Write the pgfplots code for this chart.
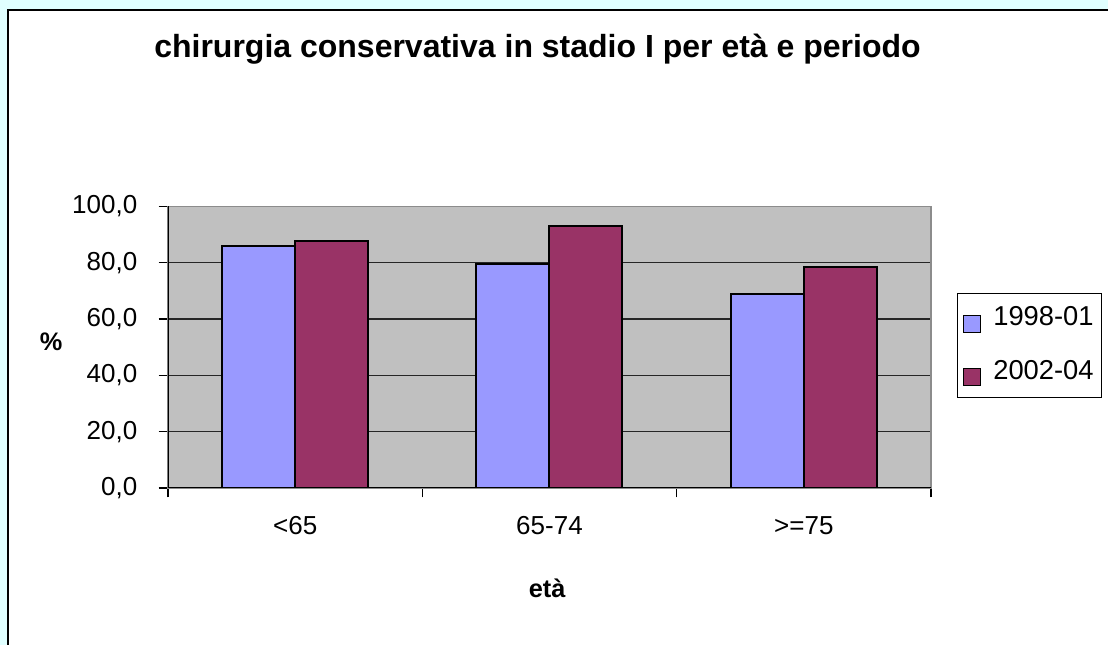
\documentclass[border=0pt]{standalone}
\usepackage{pgfplots}
\pgfplotsset{compat=1.18}
\usepackage{fontspec}
\setmainfont{Liberation Sans}

\definecolor{bgcyan}{HTML}{E0FFFF}
\definecolor{plotgray}{HTML}{C0C0C0}
\definecolor{serA}{HTML}{9999FF}
\definecolor{serB}{HTML}{993366}

\newcommand{\lblfont}{\fontsize{19.5}{23}\selectfont}
\newcommand{\legfont}{\fontsize{20.5}{24}\selectfont}

\begin{document}
\begin{tikzpicture}
\useasboundingbox (0pt,0pt) rectangle (831pt,483.75pt);
\clip (0pt,0pt) rectangle (831pt,483.75pt);
\begin{scope}[x=0.75pt,y=0.75pt]
% page background and chart panel
\fill[bgcyan] (0,0) rectangle (1108,645);
\filldraw[fill=white,draw=black,line width=0.9pt] (8,-20) rectangle (1130,635);
% title
\node[anchor=base,font=\bfseries\fontsize{24}{28}\selectfont] at (537.5,587.3)
  {chirurgia conservativa in stadio I per età e periodo};
\end{scope}

\begin{axis}[
  at={(126pt,117.75pt)}, anchor=south west,
  scale only axis, width=572.25pt, height=211.2pt,
  xmin=-0.5, xmax=2.5, ymin=0, ymax=100,
  axis background/.style={fill=plotgray},
  axis line style={draw=black!45, line width=1pt},
  ybar=0pt, bar width=54.75pt,
  ymajorgrids, grid style={draw=black!85, line width=0.8pt},
  ytick={0,20,40,60,80,100},
  xtick={-0.5,0.5,1.5,2.5},
  xticklabels={<65,65-74,>=75},
  x tick label as interval,
  tick pos=left,
  tick align=outside, major tick length=7pt,
  tick style={draw=black, line width=0.8pt},
  ticklabel style={font=\lblfont},
  yticklabel style={xshift=-12.5pt, /pgf/number format/.cd, fixed, fixed zerofill,
    precision=1, use comma, assume math mode=true},
  xticklabel style={yshift=-11pt},
  xlabel={età}, ylabel={\%},
  label style={font=\bfseries\fontsize{19}{23}\selectfont},
  xlabel style={at={(axis description cs:0.497,-0.355)}, anchor=center},
  ylabel style={rotate=-90, at={(axis description cs:-0.153,0.518)}, anchor=center},
  legend style={at={(axis description cs:1.034,0.6925)}, anchor=north west,
    draw=black, line width=0.6pt, fill=white, font=\legfont,
    inner xsep=4pt, inner ysep=8pt, row sep=18pt,
    /tikz/every odd column/.append style={column sep=7pt}},
  legend cell align=left,
  every axis plot post/.append style={
    legend image code/.code={
      \draw[##1, draw=black, line width=1pt] (0pt,-11.5pt) rectangle (13pt,1.5pt);}},
]
\addplot[fill=serA, draw=black, line width=1.5pt]
  coordinates {(0,85.8) (1,79.4) (2,68.9)};
\addplot[fill=serB, draw=black, line width=1.5pt]
  coordinates {(0,87.6) (1,92.9) (2,78.5)};
\legend{1998-01,2002-04}
% solid black axis lines on the left and bottom
\draw[black, line width=1pt] (rel axis cs:0,1) -- (rel axis cs:0,0) -- (rel axis cs:1,0);
\end{axis}
\end{tikzpicture}
\end{document}
